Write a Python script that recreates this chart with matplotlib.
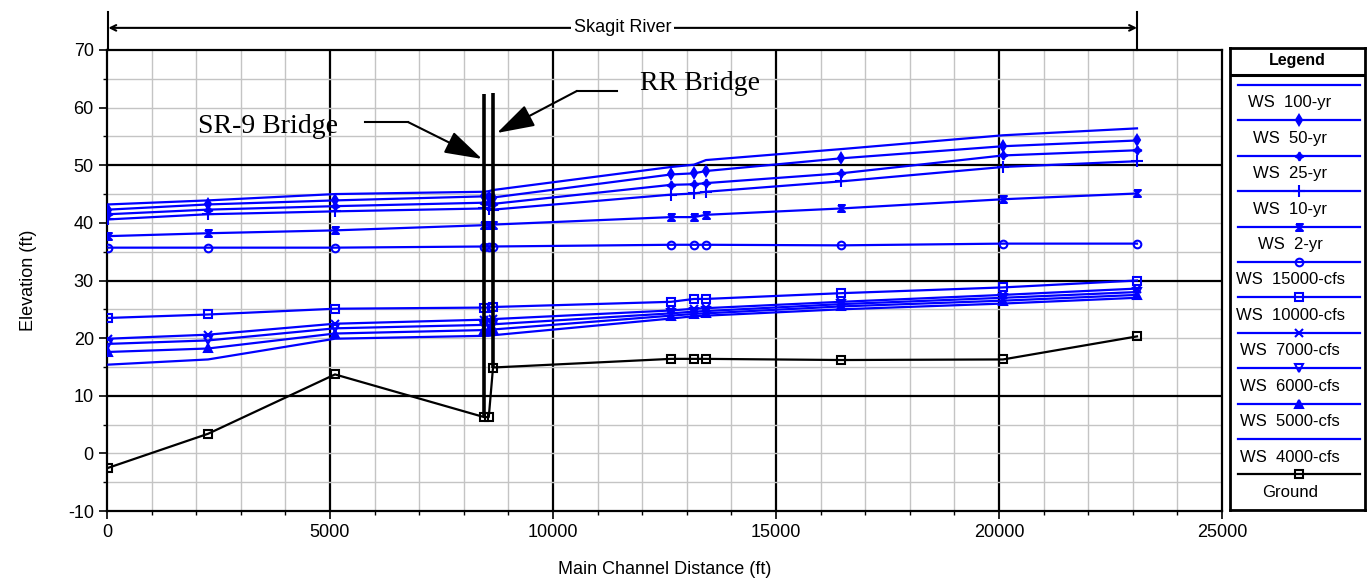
"""Skagit River water-surface profiles with SR-9 and RR bridges."""

import matplotlib
matplotlib.use("Agg")
import matplotlib.pyplot as plt  # noqa: E402
import matplotlib.transforms as mtransforms  # noqa: E402
from matplotlib.ticker import MultipleLocator  # noqa: E402

plt.rcParams['font.family'] = ['Liberation Sans', 'DejaVu Sans']
plt.rcParams['axes.unicode_minus'] = False

# ---- data ----
stations = [30, 2265, 5112, 8453, 8560, 8655, 12646, 13161, 13430, 16457, 20090, 23094]

ws_100yr = [43.2, 43.9, 45.0, 45.4, 45.5, 45.7, 49.7, 50.1, 50.9, 52.8, 55.2, 56.4]
ws_50yr = [42.3, 43.2, 43.9, 44.6, 44.5, 44.4, 48.4, 48.6, 49.0, 51.2, 53.3, 54.3]
ws_25yr = [41.5, 42.3, 42.9, 43.5, 43.4, 43.3, 46.6, 46.7, 46.9, 48.6, 51.7, 52.6]
ws_10yr = [40.6, 41.5, 42.0, 42.5, 42.4, 42.3, 44.9, 45.1, 45.4, 47.2, 49.7, 50.7]
ws_2yr = [37.7, 38.2, 38.7, 39.6, 39.6, 39.7, 41.0, 41.0, 41.4, 42.5, 44.1, 45.1]
ws_15000 = [35.7, 35.7, 35.7, 35.9, 35.9, 35.9, 36.2, 36.2, 36.2, 36.1, 36.4, 36.4]
ws_10000 = [23.5, 24.1, 25.1, 25.3, 25.3, 25.4, 26.3, 26.8, 26.8, 27.8, 28.8, 30.0]
ws_7000 = [19.9, 20.6, 22.5, 23.2, 23.2, 23.3, 24.8, 25.1, 25.2, 26.3, 27.5, 28.6]
ws_6000 = [19.0, 19.6, 21.7, 22.3, 22.3, 22.4, 24.3, 24.6, 24.7, 25.9, 27.0, 28.0]
ws_5000 = [17.6, 18.2, 20.8, 21.4, 21.4, 21.5, 23.9, 24.2, 24.3, 25.5, 26.5, 27.5]
ws_4000 = [15.4, 16.3, 19.9, 20.4, 20.4, 20.5, 23.4, 23.8, 23.9, 25.0, 26.0, 27.0]
ground = [-2.5, 3.4, 13.7, 6.3, 6.3, 14.9, 16.4, 16.4, 16.4, 16.2, 16.3, 20.3]

bridge_x = [8453, 8655]
bridge_low = [6.3, 14.9]
bridge_top = [62.3, 62.5]

labels = ["WS  100-yr", "WS  50-yr", "WS  25-yr", "WS  10-yr", "WS  2-yr",
          "WS  15000-cfs", "WS  10000-cfs", "WS  7000-cfs", "WS  6000-cfs",
          "WS  5000-cfs", "WS  4000-cfs", "Ground"]

HOURGLASS = [(-1, 1), (1, 1), (-1, -1), (1, -1), (-1, 1)]
BLUE = "#0000ff"
# (values, marker, marker size, filled)
series = [
    (ws_100yr, None, 0, True),
    (ws_50yr, "d", 5, True),
    (ws_25yr, (4, 1, 0), 6, True),
    (ws_10yr, "+", 8, True),
    (ws_2yr, HOURGLASS, 5, True),
    (ws_15000, "o", 5.5, False),
    (ws_10000, "s", 5.5, False),
    (ws_7000, "x", 5.5, True),
    (ws_6000, "v", 5.5, False),
    (ws_5000, "^", 5.5, True),
    (ws_4000, None, 0, True),
]


def style(marker, ms, filled, color):
    kw = dict(color=color, lw=1.6, marker=marker, ms=ms, mew=1.5)
    if marker is not None:
        kw["mfc"] = color if filled else "none"
        kw["mec"] = color
    return kw


fig = plt.figure(figsize=(13.71, 5.88), dpi=100)
ax = fig.add_axes([107 / 1371, 1 - 511 / 588, (1222 - 107) / 1371, (511 - 50) / 588])

# grid: grey every 1000 ft / 5 ft, black every 5000 ft and at 10/30/50 ft
for gx in range(1000, 25000, 1000):
    major = gx % 5000 == 0
    ax.axvline(gx, color="k" if major else "#c4c4c4", lw=1.6 if major else 1.0, zorder=0)
for gy in range(-5, 70, 5):
    major = gy in (10, 30, 50)
    ax.axhline(gy, color="k" if major else "#c4c4c4", lw=1.6 if major else 1.0, zorder=0)

ax.vlines(bridge_x, bridge_low, bridge_top, colors="k", lw=2.6, zorder=4)

for vals, marker, ms, filled in series:
    ax.plot(stations, vals, zorder=3, **style(marker, ms, filled, BLUE))
ax.plot(stations, ground, zorder=5, **style("s", 6, False, "k"))

ax.set_xlim(0, 25000)
ax.set_ylim(-10, 70)
ax.xaxis.set_major_locator(MultipleLocator(5000))
ax.xaxis.set_minor_locator(MultipleLocator(1000))
ax.yaxis.set_major_locator(MultipleLocator(10))
ax.yaxis.set_minor_locator(MultipleLocator(5))
ax.tick_params(which="major", length=6, width=1.2, labelsize=13, direction="out")
ax.tick_params(which="minor", length=3, width=1.0, direction="out")
for sp in ax.spines.values():
    sp.set_linewidth(1.6)
ax.set_xlabel("Main Channel Distance (ft)", fontsize=13, labelpad=14)
ax.set_ylabel("Elevation (ft)", fontsize=13, labelpad=22)

# bridge call-outs
serif = ["Liberation Serif", "DejaVu Serif"]
ax.text(3600, 56.7, "SR-9 Bridge", family=serif, fontsize=20, ha="center", va="center")
ax.plot([5785, 6749], [57.5, 57.5], color="k", lw=1.5)
ax.annotate("", xy=(8408, 51.1), xytext=(6749, 57.5),
            arrowprops=dict(arrowstyle="-|>,head_length=1.3,head_width=0.4",
                            color="k", lw=1.5, mutation_scale=18,
                            shrinkA=0, shrinkB=0))
ax.text(13300, 64.2, "RR Bridge", family=serif, fontsize=20, ha="center", va="center")
ax.plot([10538, 11435], [62.9, 62.9], color="k", lw=1.5)
ax.annotate("", xy=(8744, 55.6), xytext=(10538, 62.9),
            arrowprops=dict(arrowstyle="-|>,head_length=1.3,head_width=0.4",
                            color="k", lw=1.5, mutation_scale=18,
                            shrinkA=0, shrinkB=0))

# reach extent bar above the plot
trans = mtransforms.blended_transform_factory(ax.transData, ax.transAxes)
x0, x1 = stations[0], stations[-1]
for xb in (x0, x1):
    ax.plot([xb, xb], [1.0, 1.083], transform=trans, color="k", lw=1.5, clip_on=False)
ax.annotate("", xy=(x0, 1.048), xytext=(x1, 1.048), xycoords=trans, textcoords=trans,
            arrowprops=dict(arrowstyle="<->", color="k", lw=1.5, shrinkA=0, shrinkB=0))
ax.text((x0 + x1) / 2, 1.048, "Skagit River", transform=trans, fontsize=13,
        ha="center", va="center", bbox=dict(fc="white", ec="none", pad=2))

# hand-built legend panel
lg = fig.add_axes([1230 / 1371, 1 - 510 / 588, 135 / 1371, 462 / 588])
lg.set_xlim(0, 135)
lg.set_ylim(462, 0)
lg.set_xticks([])
lg.set_yticks([])
for sp in lg.spines.values():
    sp.set_linewidth(2)
lg.text(67, 13, "Legend", fontsize=11.5, fontweight="bold", ha="center", va="center")
lg.plot([0, 135], [26.5, 26.5], color="k", lw=2.2)
entries = series + [(ground, "s", 6, False)]
for i, (lab, (_, marker, ms, filled)) in enumerate(zip(labels, entries)):
    color = "k" if lab == "Ground" else BLUE
    ly = 37 + i * 35.4
    lg.plot([8, 130], [ly, ly], color=color, lw=1.6)
    if marker is not None:
        lg.plot([69], [ly], ls="none", **style(marker, ms, filled, color))
    lg.text(60, ly + 18, lab, fontsize=12, ha="center", va="center")

fig.savefig("out.png", dpi=100)
